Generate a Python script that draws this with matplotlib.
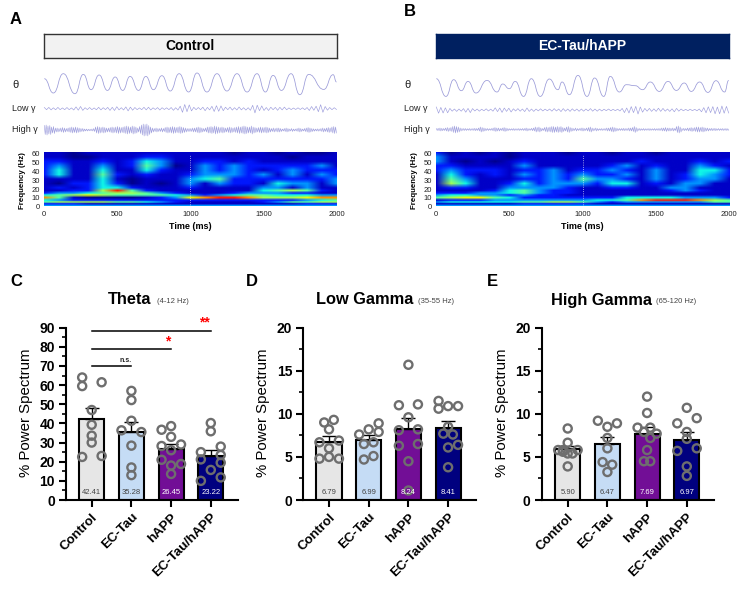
import numpy as np
import matplotlib
matplotlib.use("Agg")
import matplotlib.pyplot as plt
from matplotlib.path import Path
from matplotlib.patches import PathPatch
from matplotlib.image import NonUniformImage
from matplotlib.colors import LinearSegmentedColormap, Normalize
from matplotlib.ticker import MultipleLocator

plt.rcParams['font.family'] = ['Liberation Sans', 'DejaVu Sans']

W, H = 748, 593
GROUPS = ['Control', 'EC-Tau', 'hAPP', 'EC-Tau/hAPP']
BAR_COLORS = ['#e6e6e6', '#c5dcf5', '#720e96', '#00007f']
LABEL_COLORS = ['#444444', '#444444', '#ffffff', '#ffffff']

theta_means = [42.41, 35.28, 26.45, 23.22]
theta_tops = [47.9, 40.7, 29.2, 26.0]
theta_pts = [[64, 59.5, 61.5, 47, 39.3, 33.6, 30, 22.5, 23],
             [57, 52.2, 41.4, 36.4, 35.5, 28.4, 17, 13],
             [38.6, 36.7, 33, 28.2, 29, 26, 21, 18, 18.8, 13.6],
             [40.2, 35.9, 25, 27.9, 23.5, 21.2, 19.5, 15.7, 11.8, 10]]
theta_off = [[-.24, -.24, .25, 0, 0, 0, 0, -.24, .25],
             [0, 0, 0, -.25, .25, 0, 0, 0],
             [0, -.24, 0, -.24, .25, 0, -.24, 0, .25, 0],
             [0, 0, -.25, .25, .25, -.25, .25, 0, .25, -.25]]

low_means = [6.79, 6.99, 8.24, 8.41]
low_tops = [7.4, 7.5, 9.5, 9.2]
low_pts = [[9.3, 9.0, 8.2, 6.7, 6.9, 6.0, 4.8, 5, 4.8],
           [8.9, 8.2, 7.6, 7.9, 6.7, 6.5, 5.1, 4.7],
           [15.7, 11, 11.1, 9.6, 8.1, 8.2, 6.3, 6.5, 4.5, 1.1],
           [11.5, 10.6, 10.9, 10.9, 8.5, 7.7, 7.6, 6.4, 6.1, 3.8]]
low_off = [[.12, -.12, 0, -.24, .25, 0, -.24, 0, .25],
           [.25, 0, -.24, .25, .12, -.12, .12, -.12],
           [0, -.24, .24, 0, -.24, .24, -.24, .24, 0, 0],
           [-.24, -.24, 0, .25, 0, -.12, .12, .25, 0, 0]]

high_means = [5.90, 6.47, 7.69, 6.97]
high_tops = [6.3, 7.3, 8.5, 7.9]
high_pts = [[8.3, 6.65, 5.8, 5.8, 5.4, 5.4, 5.8, 5.6, 3.9],
            [9.2, 8.5, 8.9, 7.2, 6, 4.4, 4.1, 3.25],
            [12, 10.1, 8.4, 8.4, 7.9, 7.7, 7.2, 5.8, 4.5, 4.5],
            [10.7, 9.5, 8.9, 7.9, 7.1, 5.7, 6, 3.9, 2.8]]
high_off = [[0, 0, -.24, -.12, 0, .12, .25, -.12, 0],
            [-.24, 0, .24, 0, 0, -.12, .12, 0],
            [0, 0, -.24, .08, -.08, .24, .08, 0, -.08, .08],
            [0, .25, -.24, 0, 0, -.24, .25, 0, 0]]

theta_a_t = [0, 62, 130, 210, 267, 320, 375, 432, 485, 537, 587, 645, 695, 747, 805, 862, 923, 988, 1045, 1113,
             1182, 1250, 1319, 1388, 1456, 1513, 1566, 1623, 1689, 1749, 1810, 1913, 1977, 2000]
theta_a_v = [5, -9.3, 10, -10, 9.3, -6, 8.7, -6.7, 6.7, -6.7, 7.3, -6.7, 7.3, -6, 8, -7.3, 10, -8.3, 10.7, -8.3,
             10, -7.3, 10, -8.3, 10, -8.3, 8.3, -6.7, 10, -11, 9.3, -5.7, 9, 1.7]
theta_b_t = [0, 66, 119, 171, 217, 271, 347, 415, 454, 499, 540, 597, 650, 711, 773, 832, 860, 910, 969, 1031,
             1083, 1145, 1190, 1252, 1300, 1361, 1411, 1464, 1525, 1585, 1642, 1696, 1744, 1801, 1858, 1913, 1972, 2000]
theta_b_v = [6, -11.7, 5, -6, 3.3, -8.3, 4.3, -7.3, .7, -4, 3.3, -11.7, 6, -11.7, 5.7, -5, 2.7, -10, 9.3, -11.7,
             6.7, -11.7, 8.3, -7.3, 0, -1, -5, 2.7, -6.7, 3.3, -5.7, 1.7, -6.7, 2.7, -7.7, 4, -7.3, 4.3]

low_a = [1.2,1.0,1.3,1.2,.9,1.1,1.3,1.0,.8,1.0,1.2,1.0,.8,
         1.3,1.8,1.5,2.2,1.7,1.0,.9,1.2,1.0,.8,1.1,1.4,1.2,
         1.0,.9,1.3,1.7,1.4,1.8,2.0,1.2,1.0,1.3,1.8,2.2,1.6,
         1.5,1.2,1.0,.8,1.0,1.4,1.2,1.5,1.3,.9,.8,1.1,1.3,
         1.0,.8,.9,1.0,1.2,1.6,1.0,1.4,2.5,3.6,4.2,3.0,3.8,
         2.2,1.4,1.0,1.2,1.0,1.5,2.0,1.3,1.2,2.4,2.8,3.0,2.6,
         2.8,2.0,1.5,1.0,1.6,1.4,1.0,1.3,1.7,1.2,1.0,1.4,1.0,
         1.6,3.4,4.2,3.5,2.0,2.8,1.8,1.2,1.8,1.5,1.0,1.3,1.6,
         1.4,1.2,1.6,1.1,.8,.9,.7,.8,.9,.8,.9,1.0,1.2,
         1.8,2.2,1.6,2.5,3.0,4.0,3.6,2.2,1.5,1.2,1.0,1.0,.8]
low_b = [3.0,3.2,2.6,3.0,2.2,2.8,1.6,1.2,1.0,1.4,1.0,1.2,1.4,
         2.2,1.6,2.6,1.4,1.0,1.0,1.2,.8,.8,1.2,1.0,.9,1.2,
         2.2,1.6,2.0,2.4,2.0,1.4,1.8,2.0,1.2,1.0,1.4,1.2,1.0,
         1.6,2.0,1.4,1.0,1.4,1.0,.9,1.2,1.0,.9,.8,1.0,1.2,
         1.4,1.0,1.0,1.6,1.4,1.2,1.0,1.4,1.2,1.0,1.0,1.3,1.0,
         1.2,1.0,.9,1.4,1.2,1.0,1.2,.9,1.0,.8,.7,1.0,.8,
         .7,.7,.8,1.0,1.6,2.6,2.0,3.0,3.4,2.6,3.6,4.0,3.0,
         2.2,1.6,1.2,1.6,1.4,1.2,1.4,1.8,1.4,1.6,1.2,1.0,1.4,
         1.2,1.8,1.6,1.2,1.0,.8,.7,.7,.8,.7,.7,.8,1.0,
         1.8,2.4,2.8,3.2,2.6,3.4,3.8,3.0,3.8,4.0,3.2,3.6,3.0]
high_a = [4.5,5,4,4.5,3,3.5,2,2,1.5,2,2.5,2,1.5,2,2.5,3,
          2.5,3,2.5,2,1.5,1.5,1,1,.8,.8,1,1.5,3,3.5,3,2.5,
          3,2.5,2,2,2.5,3,2.5,3,3.5,3,2.5,3,3.5,4,3.5,3,
          4,3.5,3,2,3.5,5,6,5.5,6,4.5,3,2,1.5,2,1.5,1.5,
          2,1.5,2.5,3,2.5,3,3.5,3,2.5,3,3.5,3,2.5,2,1.5,1.5,
          1.5,2,2,2.5,3,2.5,2,1.5,2,3,3,3.5,3,4,3.5,3,
          2.5,3,2.5,2,2.5,3,2.5,2,2.5,3,3.5,3,3.5,4,3.5,3,
          3,4,3,2.5,2,2.5,3,2.5,2.5,3,2.5,2,1.5,2,1.5,2,
          2,1.5,1,1.5,2,1.5,1,1.5,1,1,1.5,2,1.5,1,1.5,2,
          2.5,2,1.5,1.2,1,1.2,1,1.5,2,1.5,2,2.5,2,3,3.5,3]
high_b = [1,1.2,1.5,1.2,1,1.5,2,1.5,2,3,3.5,3,2.5,1.5,1,1,
          1,.8,1,.8,1,1.2,1,1.5,2.5,2,1.5,1,1,.8,1,1.5,
          2,1.5,1.5,1,1.5,2,1.5,1,.8,.8,1,.8,.8,1,.8,1,
          1,1.5,1,.8,1.2,1.5,2.5,2,2.5,1.5,1,2,2.5,2,2.5,3,
          3,2.5,3,2.5,3,2,1.5,2.5,3,2,1.5,1,1.5,1,1,1.5,
          1.5,1,1.5,2,2.5,1.5,1,1.5,1,.8,1,.8,1,1.5,1.5,2,
          2.5,2,1.5,1,1,1,1.2,1,1,1.5,1.5,2,3,2,1,1,
          .8,1,.8,.8,1,.8,.8,1,.8,1,1,1.5,1.5,2,1.5,1.5,
          1.2,1.5,1,3,3.5,2.5,1,1.2,1,1.5,1.5,2,1.5,2,2.5,2.5,
          2,2.5,2,1.5,1.5,1,1.2,1,1.2,.8,1,.8,1,.8,1,.8]

spec_freq = [0, 2, 4, 6, 9, 12, 14, 17, 20, 25, 30, 35, 40, 45, 50, 55, 60]
spec_time = list(range(0, 2001, 100))
spec_a = [
 [3,3,3,3,3,3,3,3,3,3,3,3,3,3,3,3,3,3,3,3,3],
 [2,2,2,1,1,1,1,1,1,1,1,1,1,1,1,1,1,1,2,2,2],
 [5,6,6,6,6,5,5,4,3,2,1,1,1,1,1,2,3,5,5,6,6],
 [4,3,2,2,2,2,2,2,2,2,2,2,2,2,2,2,2,2,3,4,5],
 [8,5,1,0,0,0,0,1,2,3,7,8,9,9,8,6,6,6,7,8,8],
 [4,5,6,7,6,5,5,5,5,4,3,2,3,4,5,5,4,4,4,3,3],
 [2,3,3,4,5,6,6,5,3,2,1,1,1,2,3,3,3,2,2,1,1],
 [1,1,2,2,6,9,5,2,1,1,1,1,1,1,1,4,5,6,5,2,1],
 [1,2,1,2,4,4,2,1,1,1,2,1,1,1,1,3,3,1,3,1,1],
 [1,0,2,2,4,2,0,1,0,1,3,1,3,2,2,1,4,3,3,1,3],
 [1,1,1,1,4,1,0,1,1,1,3,4,5,2,2,2,2,2,2,2,3],
 [2,4,1,1,5,2,1,2,1,1,2,3,3,3,2,3,1,3,1,3,2],
 [2,4,1,1,4,1,1,4,2,1,1,3,2,3,2,1,2,3,2,2,2],
 [2,3,1,1,3,1,2,5,3,0,1,3,2,3,2,2,2,2,2,3,1],
 [2,2,1,1,2,1,2,4,3,1,1,2,2,1,2,1,1,1,1,1,1],
 [1,1,0,0,1,1,1,2,2,1,1,1,1,1,1,1,1,0,1,1,1],
 [1,1,0,1,1,1,1,1,1,1,1,1,1,0,1,1,0,1,0,0,1]]
spec_b = [
 [3,3,3,3,3,3,3,3,3,3,3,3,3,3,3,3,3,3,3,3,3],
 [1,1,1,1,1,1,2,2,2,2,2,1,1,1,1,1,1,1,1,1,1],
 [3,4,4,4,4,4,5,5,6,6,5,3,2,3,3,3,3,3,3,5,5],
 [1,2,2,2,3,3,3,3,3,3,3,4,4,5,8,9,9,9,8,6,5],
 [5,6,7,7,5,4,2,2,2,2,2,2,2,4,4,4,4,3,3,3,2],
 [3,4,4,3,3,2,3,2,2,1,1,1,1,1,1,1,1,1,1,1,1],
 [2,2,2,3,3,4,5,3,2,2,1,1,1,1,1,1,1,1,1,1,1],
 [1,1,1,1,2,4,5,3,2,2,1,1,1,1,1,1,2,3,2,1,1],
 [1,2,2,1,1,3,3,3,3,2,1,1,2,2,1,1,3,3,1,1,1],
 [1,6,4,1,1,2,4,2,3,3,3,2,4,4,1,2,1,3,3,1,1],
 [1,5,3,1,1,1,2,2,3,2,5,3,3,2,1,3,1,2,3,3,1],
 [1,4,2,1,2,1,3,2,3,2,3,2,2,3,1,3,1,2,4,3,2],
 [2,3,2,2,2,1,2,2,3,1,2,2,3,2,1,3,1,1,4,4,2],
 [2,2,1,1,1,1,3,1,1,1,1,1,2,3,1,2,1,1,3,2,1],
 [3,1,0,1,0,1,2,1,1,1,1,1,1,1,2,1,1,1,2,1,2],
 [3,1,1,1,1,0,1,1,1,1,1,1,1,1,1,1,1,1,1,1,1],
 [2,0,1,0,1,0,1,1,1,0,1,1,0,1,1,0,1,1,1,1,1]]

fig = plt.figure(figsize=(W / 100, H / 100), dpi=100)

def axpx(x0, y0, x1, y1, **kw):
    return fig.add_axes([x0 / W, 1 - y1 / H, (x1 - x0) / W, (y1 - y0) / H], **kw)

def tx(x, y, s, **kw):
    kw.setdefault('ha', 'left')
    kw.setdefault('va', 'center')
    return fig.text(x / W, 1 - y / H, s, **kw)

TRACE = '#9c9cdc'
_jet = matplotlib.colormaps['jet']
LEVELS = [.015, .065, .15, .27, .37, .45, .55, .64, .75, .88]
SPEC_CMAP = LinearSegmentedColormap.from_list('spec', [_jet(p) for p in LEVELS])

def smooth_path(t, y):
    verts = [(t[0], y[0])]
    codes = [Path.MOVETO]
    for i in range(1, len(t)):
        m = (t[i - 1] + t[i]) / 2
        verts += [(m, y[i - 1]), (m, y[i]), (t[i], y[i])]
        codes += [Path.CURVE4] * 3
    return Path(verts, codes)

def spectro_panel(x0, x1, label, lx, ly, head, face, tcolor, edge, th_t, th_v, th_c, low, lc, high, hc, spec, name_x):
    tx(lx, ly, label, fontsize=12, fontweight='bold', ha='center')
    box = axpx(x0, 33.5, x1, 58.3)
    box.set_xticks([]); box.set_yticks([])
    box.set_facecolor(face)
    for s in box.spines.values():
        s.set_linewidth(1.0); s.set_edgecolor(edge)
    box.text(.5, .5, head, transform=box.transAxes, ha='center', va='center',
             color=tcolor, fontsize=10, fontweight='bold')
    tr = axpx(x0, 68, x1, 142)
    tr.set_xlim(0, 2000); tr.set_ylim(142, 68); tr.axis('off')
    tr.add_patch(PathPatch(smooth_path(th_t, [th_c - v for v in th_v]), fc='none', ec='#9a9ad8', lw=.55))
    a = np.array(low)
    sign = np.where(np.arange(len(a)) % 2 == 0, 1, -1)
    tr.plot(np.linspace(0, 2000, len(a)), lc - a * sign, color=TRACE, lw=.45, clip_on=False)
    a = np.repeat(high, 2)
    sign = np.where(np.arange(len(a)) % 2 == 0, 1, -1)
    tr.plot(np.linspace(0, 2000, len(a)), hc - a * sign, color=TRACE, lw=.4, clip_on=False)
    tx(name_x, 85, 'θ', fontsize=8, color='#222222')
    tx(name_x, 108.5, 'Low γ', fontsize=6.5, color='#222222')
    tx(name_x, 129.5, 'High γ', fontsize=6.5, color='#222222')
    ax = axpx(x0, 154, x1, 206.5)
    im = NonUniformImage(ax, interpolation='bilinear', extent=(0, 2000, 0, 60),
                         cmap=SPEC_CMAP, norm=Normalize(0, 9))
    im.set_data(spec_time, spec_freq, np.array(spec, dtype=float))
    ax.add_image(im)
    ax.axvline(1000, color='white', lw=.6, ls=':', alpha=.8)
    ax.set_xlim(0, 2000); ax.set_ylim(0, 60)
    ax.set_xticks(range(0, 2001, 500)); ax.set_yticks(range(0, 61, 10))
    ax.tick_params(length=0, labelsize=5.5, pad=3, colors='#222222')
    for s in ax.spines.values():
        s.set_visible(False)
    ax.set_xlabel('Time (ms)', fontsize=6.5, fontweight='bold', labelpad=3)
    ax.set_ylabel('Frequency (Hz)', fontsize=5.7, fontweight='bold', labelpad=4)

spectro_panel(44.3, 336.5, 'A', 16, 19, 'Control', '#f2f2f2', 'black', '#333333',
              theta_a_t, theta_a_v, 83.7, low_a, 108.7, high_a, 130, spec_a, 12)
spectro_panel(436.3, 728.7, 'B', 410, 12, 'EC-Tau/hAPP', '#002060', 'white', '#002060',
              theta_b_t, theta_b_v, 84.7, low_b, 110, high_b, 129.5, spec_b, 404)

def bar_panel(left, right, c0, ymax, major, minor, means, tops, pts, offs, label, lx, title, sub, tx0, sx0):
    ax = axpx(left, 327.7, right, 500)
    step = 39.7
    ax.set_xlim((left - c0) / step, (right - c0) / step)
    ax.set_ylim(0, ymax)
    xs = np.arange(4)
    ax.bar(xs, means, width=.63, color=BAR_COLORS, edgecolor='black', linewidth=1.5, zorder=2)
    for i in xs:
        ax.errorbar(i, means[i], yerr=[[0], [tops[i] - means[i]]], color='black', lw=1,
                    capsize=4.7, capthick=1, zorder=3)
        ax.scatter(np.array(offs[i]) + i, pts[i], s=34, facecolor='none', edgecolor='#6e6e6e',
                   linewidth=1.7, zorder=4, clip_on=False)
        ax.text(i, ymax * .046, f'{means[i]:.2f}', ha='center', va='center', fontsize=5.5,
                color=LABEL_COLORS[i], zorder=5)
    for s in ('top', 'right'):
        ax.spines[s].set_visible(False)
    for s in ('left', 'bottom'):
        ax.spines[s].set_linewidth(1.5)
    ax.yaxis.set_major_locator(MultipleLocator(major))
    ax.yaxis.set_minor_locator(MultipleLocator(minor))
    ax.set_xticks(xs)
    ax.set_xticklabels(GROUPS, rotation=45, ha='right', va='top', rotation_mode='anchor',
                       fontsize=9.5, fontweight='bold')
    ax.tick_params(axis='both', which='major', length=5, width=1.5, labelsize=10, pad=3)
    ax.tick_params(axis='x', labelsize=9.5, pad=3)
    ax.tick_params(axis='y', which='minor', length=3, width=1.2)
    for t in ax.get_yticklabels():
        t.set_fontweight('bold')
    tx(lx, 282, label, fontsize=12, fontweight='bold', ha='center')
    tx(tx0, 300, title, fontsize=11.8, fontweight='bold')
    tx(sx0, 302, sub, fontsize=5.5, color='#444444')
    tx(left - 40, 413, '% Power Spectrum', fontsize=10.8, rotation=90, ha='center')
    return ax

axc = bar_panel(66, 238, 91.7, 90, 10, 5, theta_means, theta_tops, theta_pts, theta_off,
                'C', 16, 'Theta', '(4-12 Hz)', 107.7, 156.7)
bar_panel(303.3, 475.7, 329, 20, 5, 2.5, low_means, low_tops, low_pts, low_off,
          'D', 252, 'Low Gamma', '(35-55 Hz)', 315.7, 418)
bar_panel(541.7, 714, 567.7, 20, 5, 2.5, high_means, high_tops, high_pts, high_off,
          'E', 492, 'High Gamma', '(65-120 Hz)', 550.7, 655.7)

sig_levels = [88.5, 78.8, 70.1]
sig_ends = [3, 2, 1]
sig_marks = ['**', '*', 'n.s.']
for lev, end, m in zip(sig_levels, sig_ends, sig_marks):
    axc.plot([0, end], [lev, lev], color='black', lw=1.1, clip_on=False, zorder=6)
    if m == 'n.s.':
        axc.text(end - .14, lev + 1, m, fontsize=5, fontweight='bold', ha='center', va='bottom', color='#222222')
    else:
        axc.text(end - (.15 if m == '**' else .08), lev + .5, m, fontsize=10, fontweight='bold',
                 ha='center', va='bottom', color='#ff0000', clip_on=False)

fig.savefig('out.png', dpi=100)
